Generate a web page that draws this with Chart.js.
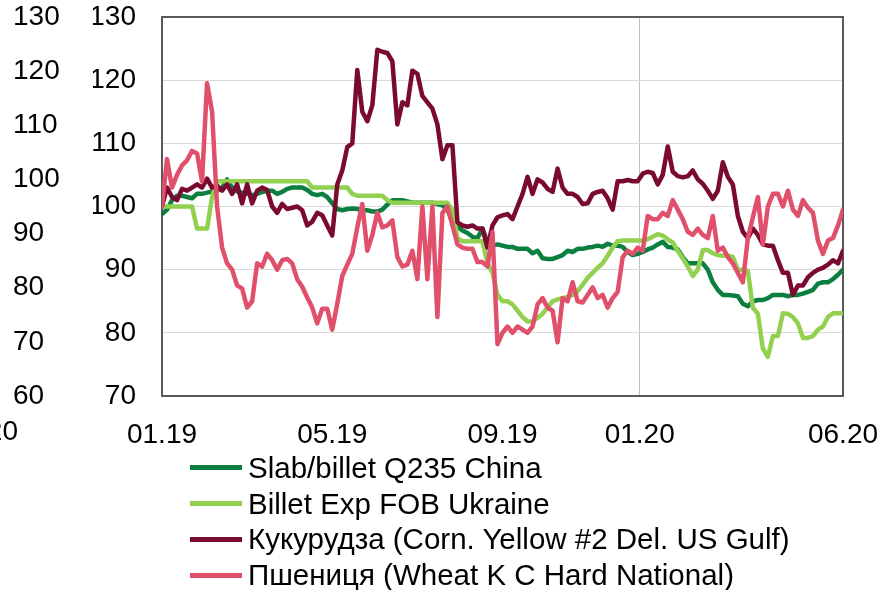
<!DOCTYPE html>
<html>
<head>
<meta charset="utf-8">
<script src="https://cdn.jsdelivr.net/npm/chart.js@4.4.1/dist/chart.umd.min.js"></script>
<style>
  body { margin: 0; background: #fff; }
  #wrap { position: relative; width: 893px; height: 590px; }
  #legend { position: absolute; left: 190px; top: 450px; font: 29.5px "Liberation Sans", Arial, sans-serif; color: #000; }
  .item { height: 35.8px; display: flex; align-items: center; white-space: nowrap; }
  .item span.line { display: inline-block; width: 52px; height: 5px; margin-right: 6px; }
</style>
</head>
<body>
<div id="wrap">
  <canvas id="grafico" width="893" height="590"></canvas>
  <div id="legend"></div>
</div>
<script>
// --- DADOS ---
// eixo X: pontos com passo fixo (índice), rótulos nas posições abaixo
const tickPos = [0, 34, 68, 95.4, 136];
const tickText = ['01.19', '05.19', '09.19', '01.20', '06.20'];

const nomes = [
  'Slab/billet Q235 China',
  'Billet Exp FOB Ukraine',
  'Кукурудза (Corn. Yellow #2 Del. US Gulf)',
  'Пшениця (Wheat K C Hard National)'
];
const cores = ['#0a7f40', '#92d050', '#7a0a30', '#e0506a'];

const slab = [
  98.8, 99.5, 101, 101.7, 101.7, 101.5, 101.3, 102, 102, 102.2, 102.4, 102.5, 103, 104.3, 103, 102.4, 102.2, 102, 101.8, 102, 102.3, 102.5, 102.5,
  102, 102.3, 102.8, 103, 103, 103, 102.6, 102, 101.8, 102, 101.5, 100.5, 99.6, 99.4, 99.6, 99.7, 99.6, 99.4, 99.4, 99.2, 99.2, 99.5, 100.3,
  101, 101, 101, 100.8, 100.6, 100.6, 100.6, 100.6, 100.6, 100.4, 100.2, 99.5, 97.5, 96.8, 96.2, 95.8, 95.2, 95, 96.5, 94.3, 93.8, 94,
  93.8, 93.6, 93.6, 93.3, 93.3, 93.3, 92.6, 93, 91.8, 91.7, 91.7, 92, 92.3, 93, 92.8, 93.3, 93.3, 93.5, 93.6, 93.8, 93.6, 94.1, 93.8,
  93.8, 93.6, 92.8, 92.3, 92.5, 92.8, 93.2, 93.5, 94, 94.4, 93.6, 93.5, 93.2, 92, 91, 91, 91, 91, 90, 88, 86.8, 86, 86,
  85.9, 85.8, 84.6, 84.2, 85, 85.2, 85.2, 85.5, 86, 86, 86, 85.8, 86, 86, 86.2, 86.5, 86.8, 87.8, 88, 88, 88.5, 89.2, 90
];

const billet = [
  100, 100, 100, 100, 100, 100, 100, 96.5, 96.5, 96.5, 101.5,
  104, 104, 104, 104, 104, 104, 104, 104, 104, 104, 104, 104, 104, 104, 104, 104, 104, 104, 104,
  103, 103, 103, 103, 103, 103, 103, 103, 102, 101.7, 101.7, 101.7, 101.7, 101.7, 101.7, 101,
  100.6, 100.6, 100.6, 100.6, 100.6, 100.6, 100.6, 100.6, 100.6, 100.6, 100.6, 100.6,
  99.5, 95, 94.5, 94.5, 94.5, 94.5, 94.5, 91, 89.5, 86,
  85, 85, 84.5, 83.5, 82.5, 81.8, 81.8, 82.4, 83, 84, 85, 85.3, 85.5, 85.7, 86, 86.6, 87.6, 88.7, 89.5, 90.3, 91, 92.2, 93.5, 94.5,
  94.6, 94.6, 94.6, 94.6, 94.6, 94.8, 95.2, 95.6, 95.4, 94.8, 94.3, 93, 91.8, 90.5, 89, 90, 93.1, 93.1, 92.6, 92.3, 92.2, 92.2,
  92, 90, 90, 89.8, 84, 83, 77.5, 76.2, 79.5, 79.5, 83.1, 83, 82.5, 81.5, 79.2, 79.2, 79.5, 80.5, 81, 82.5, 83.1, 83.1, 83.1
];

const milho = [
  100, 103, 101.5, 101, 102.8, 102.5, 103, 103.5, 103, 104.4, 103, 103.3, 102.5, 103.5, 102, 103.5, 100.5, 103.5, 100.5, 102.5, 103, 102.6, 100,
  99, 100.4, 99.6, 99.8, 100, 99.4, 97, 97.6, 99, 98.6, 97, 95.4, 103.5, 105.7, 109.4, 110, 121.6, 115, 113.5, 116, 124.8, 124.5, 124.3,
  123, 113, 116.5, 116, 121.5, 121, 117.5, 116.5, 115.5, 113, 107.5, 109.7, 109.7, 97.5, 97, 96.8, 97, 96.5, 96.5, 93.5, 97, 98.3,
  98.6, 98.8, 98, 100, 102, 104.7, 102, 104.3, 103.8, 102.8, 102.3, 106, 103, 102, 102, 101.5, 100.4, 100.5, 102, 102.3, 102.5, 101.3, 99.5,
  104, 104, 104.2, 104, 104, 105.2, 105.5, 105.3, 103.5, 105, 109.5, 105.5, 104.8, 104.6, 104.8, 105.7, 104.3, 103.6, 102.5, 101.2, 102.5, 107, 104.7,
  103.5, 98.5, 96, 95, 96.5, 95.5, 94, 93.8, 93.8, 91.5, 89.5, 89.5, 86, 87.5, 87.5, 88.8, 89.5, 90, 90.3, 90.8, 91.5, 91, 93
];

const trigo = [
  100, 107.5, 103, 105, 106.5, 107.3, 108.8, 108.4, 104, 119.5, 115, 100, 93.5, 91, 90, 87.5, 87, 84, 85, 91, 90.5, 92.5, 91.5,
  90, 91.5, 91.7, 91, 88.5, 87.3, 85.6, 84, 81.5, 83.8, 83.8, 80.5, 84.6, 89, 90.8, 92.5, 96.7, 100.4, 93, 95.5, 99, 96.7, 97,
  97.8, 92, 90.5, 90.8, 93, 88.5, 100, 88.5, 100, 82.5, 99, 100, 97, 94, 93.5, 93.3, 93.3, 91.2, 91.2, 90.5, 96, 78.2,
  80, 81, 80, 81, 80.5, 80, 81, 84.5, 85.5, 84, 83.5, 78.5, 85.5, 85, 88, 85, 84.8, 86, 87.2, 85.5, 86, 84, 85.5,
  86.5, 92, 93, 92.5, 93.5, 93, 98.5, 98, 98, 99, 98.5, 101, 99.5, 98, 96, 95.5, 96.5, 95.5, 95, 98.5, 93, 93.5, 92,
  91, 89.5, 88, 95, 98.3, 101.5, 94, 100, 102, 102, 100, 102.5, 99.5, 98.5, 101, 99.8, 99, 94.6, 92.5, 94.6, 95, 97, 99.5
];

const series = [slab, billet, milho, trigo];

// legenda em HTML (coluna alinhada à esquerda)
const legenda = document.getElementById('legend');
nomes.forEach((n, i) => {
  const d = document.createElement('div');
  d.className = 'item';
  d.innerHTML = '<span class="line" style="background:' + cores[i] + '"></span>' + n;
  legenda.appendChild(d);
});

const fonte = { family: '"Liberation Sans", Arial, sans-serif', size: 28 };

// sem folga extra dos rótulos: a área do gráfico fica onde o layout manda
const semFolga = (scale) => {
  scale.paddingTop = 0;
  scale.paddingBottom = 0;
  scale.paddingLeft = 0;
  scale.paddingRight = 0;
};

// moldura da área do gráfico + rótulo cortado à esquerda
const moldura = {
  id: 'moldura',
  beforeDatasetsDraw(chart) {
    const a = chart.chartArea, ctx = chart.ctx;
    ctx.save();
    ctx.strokeStyle = '#595959';
    ctx.lineWidth = 2;
    ctx.strokeRect(a.left, a.top, a.right - a.left, a.bottom - a.top);
    ctx.restore();
  },
  afterDraw(chart) {
    const ctx = chart.ctx;
    ctx.save();
    ctx.font = '28px "Liberation Sans", Arial, sans-serif';
    ctx.fillStyle = '#000';
    ctx.textAlign = 'right';
    ctx.textBaseline = 'middle';
    ctx.fillText('06.20', 18, 432);
    ctx.restore();
  }
};

new Chart(document.getElementById('grafico'), {
  type: 'line',
  data: {
    datasets: series.map((s, i) => ({
      label: nomes[i],
      data: s.map((v, k) => ({ x: k, y: v })),
      borderColor: cores[i],
      backgroundColor: cores[i],
      borderWidth: 4.5,
      pointRadius: 0,
      tension: 0,
      borderJoinStyle: 'round',
      borderCapStyle: 'round',
      order: 4 - i,
      yAxisID: 'y'
    }))
  },
  options: {
    responsive: false,
    devicePixelRatio: 1,
    animation: false,
    layout: { padding: { left: 13, top: 17, right: 50, bottom: 0 } },
    plugins: { legend: { display: false }, tooltip: { enabled: false } },
    scales: {
      x: {
        type: 'linear',
        min: 0,
        max: 136,
        afterBuildTicks: (scale) => { scale.ticks = tickPos.map(v => ({ value: v })); },
        afterFit: (scale) => { scale.height = 194; semFolga(scale); },
        ticks: {
          autoSkip: false,
          maxRotation: 0,
          padding: 22,
          color: '#000',
          font: fonte,
          callback: (v) => tickText[tickPos.indexOf(v)]
        },
        grid: {
          drawTicks: false,
          color: (c) => (c.tick && c.tick.value === 95.4) ? '#c0c0c0' : 'transparent'
        },
        border: { display: false }
      },
      y: {
        position: 'left',
        weight: 0,
        min: 70,
        max: 130,
        afterFit: (scale) => { scale.width = 69; semFolga(scale); },
        ticks: { stepSize: 10, padding: 26, color: '#000', font: fonte },
        grid: {
          drawTicks: false,
          color: (c) => (c.tick && (c.tick.value === 70 || c.tick.value === 130)) ? 'transparent' : '#d9d9d9'
        },
        border: { display: false }
      },
      y2: {
        position: 'left',
        weight: 1,
        min: 60,
        max: 130,
        afterFit: (scale) => { scale.width = 80; semFolga(scale); },
        ticks: { stepSize: 10, crossAlign: 'far', color: '#000', font: fonte },
        grid: { display: false, drawTicks: false },
        border: { display: false }
      }
    }
  },
  plugins: [moldura]
});
</script>
</body>
</html>
